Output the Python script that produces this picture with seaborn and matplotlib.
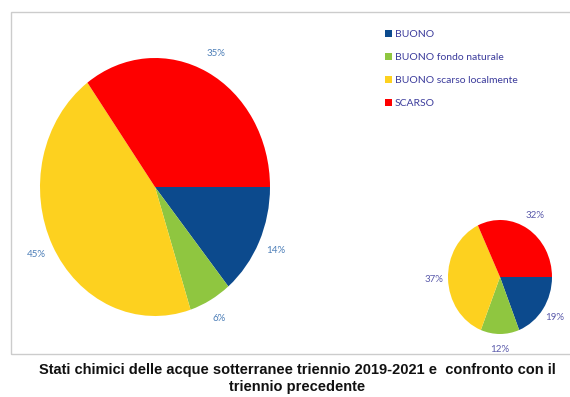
import matplotlib
matplotlib.use("Agg")
import matplotlib.pyplot as plt
import seaborn as sns
from matplotlib.patches import Rectangle

categories = ["BUONO", "BUONO fondo naturale", "BUONO scarso localmente", "SCARSO"]
current_values = [14, 6, 45, 35]    # triennio 2019-2021
previous_values = [19, 12, 37, 32]  # triennio precedente
caption = "Stati chimici delle acque sotterranee triennio 2019-2021 e  confronto con il\ntriennio precedente"

sns.set_theme(style="white")
plt.rcParams['font.family'] = ['Lato', 'DejaVu Sans']
colors = sns.color_palette(["#0c4a8d", "#8fc640", "#fdd11f", "#fe0000"])

fig = plt.figure(figsize=(5.70, 3.97), dpi=100)

# border box
fig.patches.append(Rectangle((11/570, 1-354/397), 0.99, 342/397, transform=fig.transFigure,
                             fill=False, edgecolor="#cccccc", linewidth=1.0))

def make_pie(rect, values, pctdist, color, fs):
    ax = fig.add_axes(rect)
    wedges, texts, autotexts = ax.pie(values, colors=colors, startangle=0, counterclock=False,
                                      autopct=lambda p: f"{p:.0f}%", pctdistance=pctdist,
                                      wedgeprops=dict(linewidth=0, edgecolor="none"),
                                      textprops=dict(color=color, fontsize=fs))
    ax.set_aspect('auto')
    ax.set_xlim(-1, 1)
    ax.set_ylim(-1, 1)
    ax.axis('off')
    return wedges

w_big = make_pie([40/570, 1-316/397, 230/570, 258/397], current_values, 1.16, "#4d7fb8", 7)
make_pie([448/570, 1-334/397, 104/570, 114/397], previous_values, 1.27, "#5b5bab", 7)

leg = fig.legend(w_big, categories, loc="upper left", bbox_to_anchor=(376/570, 1-21/397),
                 frameon=False, fontsize=7.5, handlelength=0.6, handleheight=0.6,
                 handletextpad=0.3, labelspacing=1.33)
for t in leg.get_texts():
    t.set_color("#3c3c9c")

fig.text(297/570, 1-378.5/397, caption, ha="center", va="center", fontsize=10.5,
         fontweight="bold", family=["Liberation Sans Narrow", "Liberation Sans", "DejaVu Sans"],
         color="#111111", linespacing=1.35)

fig.savefig("out.png", dpi=100)
